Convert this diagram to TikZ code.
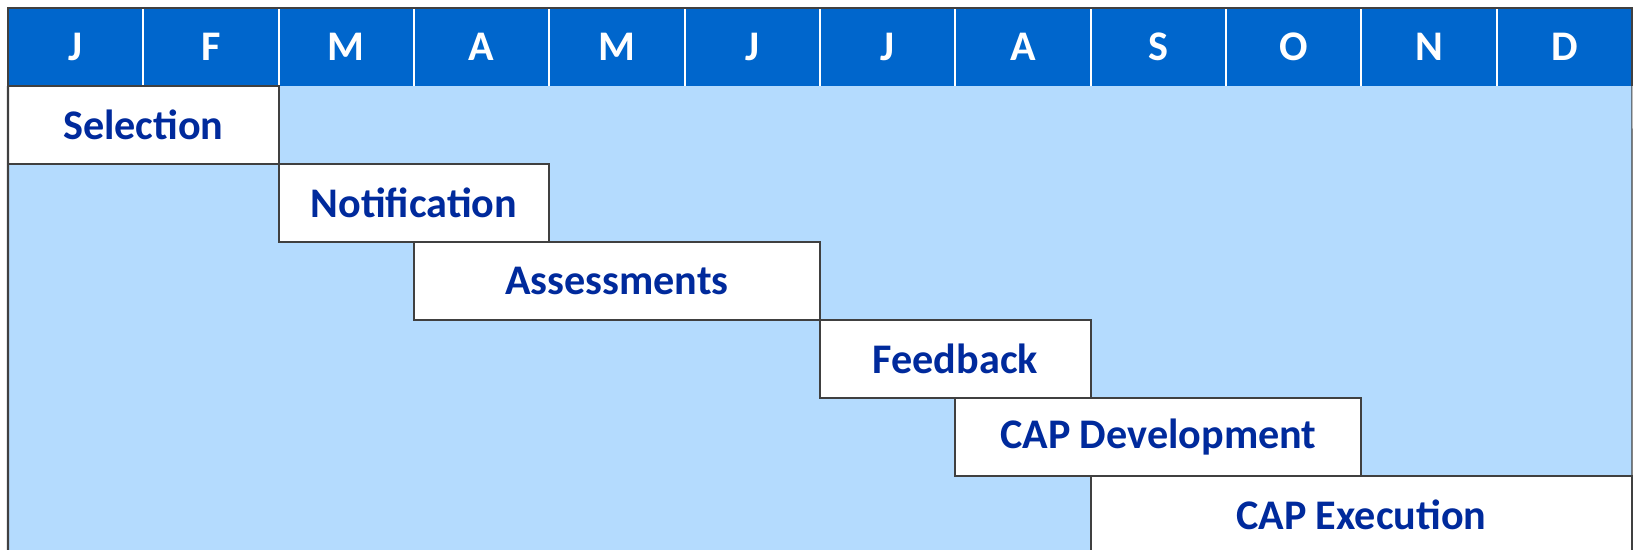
\documentclass[tikz,border=0pt]{standalone}
\usepackage{fontspec}
\setmainfont{Carlito}
\usetikzlibrary{positioning}
\definecolor{PlanBlue}{HTML}{0066CC}
\definecolor{PlanSky}{HTML}{B4DBFE}
\definecolor{PlanNavy}{HTML}{002A9C}
\definecolor{PlanGrey}{HTML}{404040}
\colorlet{HeaderFill}{PlanBlue}
\colorlet{BodyFill}{PlanSky}
\colorlet{TaskText}{PlanNavy}
\colorlet{FrameLine}{PlanGrey}

\begin{document}
\begin{tikzpicture}[
        x=0.02cm, y=-0.02cm,
        month/.style={fill=HeaderFill, text=white, inner sep=0pt, outer sep=0pt,
            minimum width=2.7067cm, minimum height=1.56cm,
            font=\bfseries\fontsize{24}{28}\selectfont},
        task/.style={draw=FrameLine, line width=1.2pt, fill=white, text=TaskText,
            inner sep=0pt, outer sep=0pt, anchor=north west, minimum height=1.56cm,
            font=\bfseries\fontsize{24}{28}\selectfont}
    ]
    \useasboundingbox (0,0) rectangle (1633,549);
    \begin{scope}
    \clip (0,0) rectangle (1633,549);

    % Body
    \fill[BodyFill] (8,86) rectangle (1632,560);

    % Month header
    \foreach \m [count=\i] in {J,F,M,A,M,J,J,A,S,O,N,D}
        \node[month] (m\i) at ({8+(\i-0.5)*135.33},47) {\m};
    \foreach \i in {1,...,11}
        \draw[white, line width=1.2pt] (m\i.north east) -- (m\i.south east);

    % Tasks
    \node[task, minimum width=2*2.7067cm] (selection) at (m1.south west) {Selection};
    \node[task, minimum width=2*2.7067cm] (notification) at (m3.west |- selection.south) {Notification};
    \node[task, minimum width=3*2.7067cm] (assessments) at (m4.west |- notification.south) {Assessments};
    \node[task, minimum width=2*2.7067cm] (feedback) at (m7.west |- assessments.south) {Feedback};
    \node[task, minimum width=3*2.7067cm] (capdev) at (m8.west |- feedback.south) {CAP Development};
    \node[task, minimum width=4*2.7067cm] (capexec) at (m9.west |- capdev.south) {CAP Execution};

    % Frame
    \draw[FrameLine, line width=1.2pt] (m1.south west) -- (m1.north west) -- (m12.north east) -- (m12.south east);
    \draw[FrameLine, line width=1.2pt] (m1.south west) -- (8,560);
    \draw[FrameLine, line width=0.6pt] (m12.south east) -- (1632,560);
    \end{scope}
\end{tikzpicture}
\end{document}
